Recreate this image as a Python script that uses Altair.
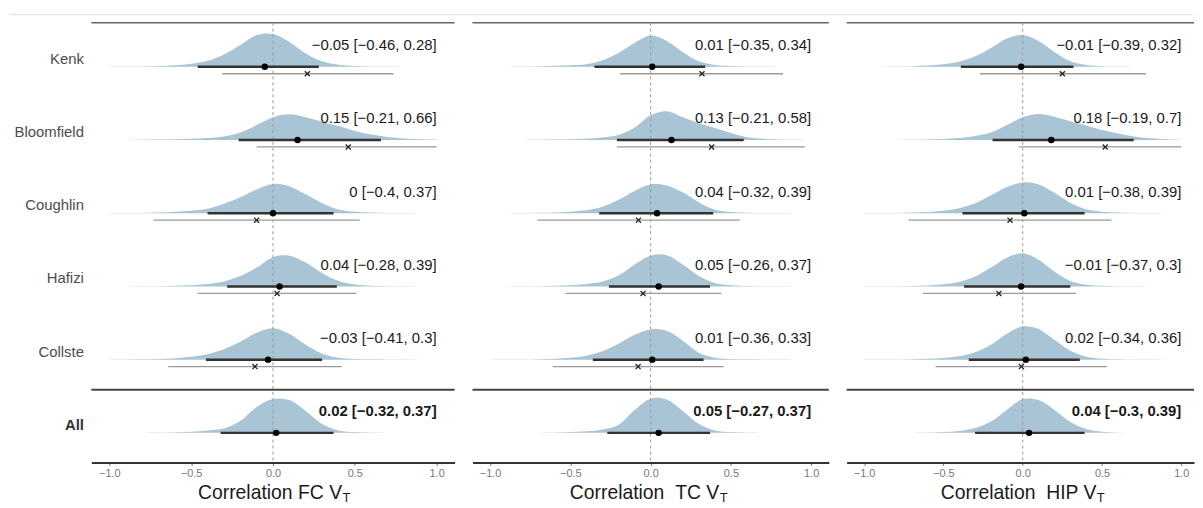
import altair as alt
import pandas as pd

# ---------------- data ----------------
ROWS = ["Kenk", "Bloomfield", "Coughlin", "Hafizi", "Collste", "All"]
ROW_POS = [5, 4, 3, 2, 1, 0]
PANELS = ["FC", "TC", "HIP"]

# posterior median and 95% interval
MED = {"FC": [-0.05, 0.15, 0.00, 0.04, -0.03, 0.02],
       "TC": [0.01, 0.13, 0.04, 0.05, 0.01, 0.05],
       "HIP": [-0.01, 0.18, 0.01, -0.01, 0.02, 0.04]}
LO = {"FC": [-0.46, -0.21, -0.40, -0.28, -0.41, -0.32],
      "TC": [-0.35, -0.21, -0.32, -0.26, -0.36, -0.27],
      "HIP": [-0.39, -0.19, -0.38, -0.37, -0.34, -0.30]}
HI = {"FC": [0.28, 0.66, 0.37, 0.39, 0.30, 0.37],
      "TC": [0.34, 0.58, 0.39, 0.37, 0.33, 0.37],
      "HIP": [0.32, 0.70, 0.39, 0.30, 0.36, 0.39]}

# observed (sample) correlation and its interval, studies only
OBS_ROWS = ["Kenk", "Bloomfield", "Coughlin", "Hafizi", "Collste"]
OBS = {"FC": [0.21, 0.46, -0.10, 0.025, -0.11],
       "TC": [0.32, 0.38, -0.076, -0.047, -0.078],
       "HIP": [0.25, 0.52, -0.08, -0.15, -0.008]}
OBS_LO = {"FC": [-0.31, -0.10, -0.73, -0.46, -0.64],
          "TC": [-0.19, -0.21, -0.705, -0.53, -0.61],
          "HIP": [-0.27, -0.025, -0.72, -0.63, -0.55]}
OBS_HI = {"FC": [0.735, 1.00, 0.53, 0.51, 0.42],
          "TC": [0.825, 0.96, 0.555, 0.44, 0.455],
          "HIP": [0.777, 1.00, 0.56, 0.336, 0.53]}

# posterior density heights (ridge heights) on a grid of correlation values
GRID = [-1.0, -0.9, -0.8, -0.7, -0.6, -0.5, -0.4, -0.3, -0.2, -0.1, 0.0,
        0.1, 0.2, 0.3, 0.4, 0.5, 0.6, 0.7, 0.8, 0.9, 1.0]
DENS = {
    "FC": [
        [0.1, 0.2, 0.4, 0.8, 1.5, 3, 6, 12.5, 22, 32, 33, 25, 13.5, 5.5, 2, 0.8, 0.4, 0.2, 0.1, 0.05, 0],
        [0, 0.1, 0.2, 0.4, 0.8, 1.2, 2, 3.5, 7.5, 15, 23, 26, 23, 18.5, 14, 9, 5.5, 3, 1.5, 0.7, 0.3],
        [0, 0.1, 0.3, 0.7, 1.5, 2.5, 4.5, 9.5, 16, 24, 29.5, 27, 19, 10, 3.8, 1.5, 0.6, 0.3, 0.15, 0.05, 0],
        [0, 0.05, 0.1, 0.3, 0.6, 1.2, 2.5, 5, 10.5, 19, 29.5, 31, 24, 13.5, 5.5, 2, 0.8, 0.3, 0.15, 0.05, 0],
        [0, 0.1, 0.3, 0.7, 1.5, 3, 5.5, 10.5, 18, 27, 31.7, 26, 15, 6, 2, 0.7, 0.3, 0.1, 0.05, 0, 0],
        [0.05, 0.1, 0.15, 0.3, 0.6, 1.2, 2.5, 4.5, 12, 26, 34, 33, 22, 9, 2.5, 0.8, 0.4, 0.2, 0.1, 0.05, 0],
    ],
    "TC": [
        [0, 0.1, 0.2, 0.5, 1, 1.6, 2.5, 6.5, 14, 24, 31.5, 26, 15, 5.5, 1.8, 0.8, 0.4, 0.2, 0.1, 0.05, 0],
        [0, 0.05, 0.1, 0.2, 0.4, 0.7, 1.2, 2.5, 5, 12.5, 25, 29, 23, 17, 12, 7, 2.8, 1.2, 0.6, 0.3, 0.1],
        [0, 0.05, 0.15, 0.4, 0.8, 1.6, 3, 6.5, 13.5, 22.5, 29, 28, 21, 11, 3.5, 1.2, 0.5, 0.2, 0.1, 0.05, 0],
        [0, 0.05, 0.1, 0.3, 0.6, 1.2, 2.4, 5, 11, 22, 31, 31.5, 22, 10.5, 3.5, 1.2, 0.5, 0.2, 0.1, 0.05, 0],
        [0, 0.1, 0.2, 0.5, 1, 2, 4, 8.5, 16, 25, 30.5, 29, 19, 7, 2, 0.7, 0.3, 0.1, 0.05, 0, 0],
        [0, 0.05, 0.1, 0.2, 0.4, 0.8, 1.6, 3.5, 8, 23, 34.5, 33.5, 22, 9, 2.5, 0.8, 0.3, 0.15, 0.05, 0, 0],
    ],
    "HIP": [
        [0, 0.1, 0.3, 0.6, 1.2, 2.5, 5, 10.5, 19, 28.5, 32, 26, 15, 5.5, 1.8, 0.6, 0.3, 0.1, 0.05, 0, 0],
        [0, 0.05, 0.1, 0.2, 0.5, 1, 2, 4, 7.5, 15, 23, 26.3, 23.5, 19, 14.5, 10, 6.5, 3.5, 1.8, 0.8, 0.3],
        [0, 0.1, 0.3, 0.6, 1.2, 2.5, 5, 10, 18, 26.5, 31, 29, 20.5, 10.5, 4, 1.5, 0.6, 0.3, 0.1, 0.05, 0],
        [0, 0.1, 0.2, 0.5, 1, 2.2, 4.5, 10, 19, 29, 33.4, 27, 15, 5.5, 1.7, 0.6, 0.2, 0.1, 0.05, 0, 0],
        [0, 0.05, 0.15, 0.4, 0.8, 1.7, 3.5, 7.5, 15, 26, 33.5, 31, 20, 9, 3, 1, 0.4, 0.15, 0.05, 0, 0],
        [0, 0.05, 0.1, 0.2, 0.4, 0.9, 2, 5, 11.5, 23, 34, 33, 23, 11, 4, 1.2, 0.4, 0.15, 0.05, 0, 0],
    ],
}

TITLES = ["Correlation FC V", "Correlation\u00a0\u00a0TC V", "Correlation\u00a0\u00a0HIP V"]
TICKS = [-1.0, -0.5, 0.0, 0.5, 1.0]

# ---------------- layout / style ----------------
WIDTHS = [366, 359, 350]
XDOMS = [[-1.11, 1.11], [-1.11, 1.11], [-1.11, 1.08]]
VEND = [252.6, 248.6, 251.6]
H = 443
YDOM = [-0.404, 5.601]
ROW_PX = H / (YDOM[1] - YDOM[0])
SEP_Y = 0.59
OBS_DY = -0.095
LAB_DY = 0.294
CAT_DY = 0.11
FONT = "Liberation Sans"
RIDGE = "#a9c4d4"


def fmt(v):
    s = f"{v:g}"
    return s.replace("-", "\u2212")


def panel(k):
    key = PANELS[k]
    W = WIDTHS[k]
    xs = alt.Scale(domain=XDOMS[k], nice=False, zero=False)
    ys = alt.Scale(domain=YDOM, nice=False, zero=False)
    ax = alt.Axis(values=TICKS, format=".1f", title=None, grid=False,
                  labelFontSize=11, labelColor="#777777", labelFont=FONT,
                  tickColor="#777777", tickSize=3, tickWidth=1,
                  domainColor="#333333", domainWidth=2, labelPadding=2)

    def X(f):
        return alt.X(f, type="quantitative", scale=xs, axis=ax)

    def Y(f):
        return alt.Y(f, type="quantitative", scale=ys, axis=None)

    dens = []
    for i, r in enumerate(ROWS):
        for g, h in zip(GRID, DENS[key][i]):
            dens.append({"row": r, "x": g, "base": ROW_POS[i],
                         "top": ROW_POS[i] + h / ROW_PX})
    dd = pd.DataFrame(dens)

    sd = pd.DataFrame({
        "row": ROWS,
        "pos": ROW_POS,
        "med": MED[key],
        "lo": LO[key],
        "hi": HI[key],
    })
    sd["label"] = [f"{fmt(m)} [{fmt(l)}, {fmt(h)}]" for m, l, h in zip(MED[key], LO[key], HI[key])]
    sd["lab_y"] = sd["pos"] + LAB_DY
    sd["cat_y"] = sd["pos"] + CAT_DY
    sd["tx"] = 1.0
    sd["bold"] = sd["row"] == "All"

    od = pd.DataFrame({
        "row": OBS_ROWS,
        "obs": OBS[key],
        "olo": OBS_LO[key],
        "ohi": OBS_HI[key],
    })
    od["y"] = [ROW_POS[ROWS.index(r)] + OBS_DY for r in OBS_ROWS]

    zero = pd.DataFrame({"z": [0.0]})
    sep = pd.DataFrame({"s": [SEP_Y]})
    one = pd.DataFrame({"t": [TITLES[k]]})

    layers = []
    layers.append(alt.Chart(dd).mark_area(color=RIDGE, interpolate="catmull-rom", opacity=1,
                                           orient="vertical")
                  .encode(x=X("x"), y=Y("top"), y2="base", detail="row:N"))
    layers.append(alt.Chart(one).mark_rule(color="#666666", strokeWidth=1.5)
                  .encode(x=alt.value(0), x2=alt.value(W), y=alt.value(0)))
    layers.append(alt.Chart(sep).mark_rule(color="#444444", strokeWidth=2)
                  .encode(x=alt.value(0), x2=alt.value(W), y=Y("s")))
    layers.append(alt.Chart(zero).mark_rule(color="#9a9a9a", strokeWidth=1, strokeDash=[3, 3])
                  .encode(x=X("z"), y=alt.value(0), y2=alt.value(H)))
    layers.append(alt.Chart(od).mark_rule(color="#9a9a9a", strokeWidth=1.3)
                  .encode(x=X("olo"), x2="ohi", y=Y("y")))
    layers.append(alt.Chart(sd).mark_rule(color="#333333", strokeWidth=2.5)
                  .encode(x=X("lo"), x2="hi", y=Y("pos")))
    layers.append(alt.Chart(od).mark_point(shape="M-1,-1L1,1M-1,1L1,-1", size=26, filled=False,
                                           color="#222222", strokeWidth=1.3, opacity=1)
                  .encode(x=X("obs"), y=Y("y")))
    layers.append(alt.Chart(sd).mark_circle(size=42, color="#000000", opacity=1)
                  .encode(x=X("med"), y=Y("pos")))
    layers.append(alt.Chart(sd).transform_filter("!datum.bold")
                  .mark_text(align="right", baseline="middle", font=FONT, fontSize=15, color="#1a1a1a")
                  .encode(x=X("tx"), y=Y("lab_y"), text="label:N"))
    layers.append(alt.Chart(sd).transform_filter("datum.bold")
                  .mark_text(align="right", baseline="middle", font=FONT, fontSize=15,
                             fontWeight="bold", color="#1a1a1a")
                  .encode(x=X("tx"), y=Y("lab_y"), text="label:N"))
    # axis title with subscript
    layers.append(alt.Chart(one).mark_text(align="right", baseline="middle", font=FONT,
                                           fontSize=19.5, color="#1a1a1a")
                  .encode(x=alt.value(VEND[k]), y=alt.value(H + 30.7), text="t:N"))
    layers.append(alt.Chart(one).mark_text(align="left", baseline="middle", font=FONT,
                                           fontSize=13, color="#1a1a1a", text="T")
                  .encode(x=alt.value(VEND[k] + 0.5), y=alt.value(H + 35.5)))
    if k == 0:
        layers.append(alt.Chart(one).mark_rule(color="#e2e2e2", strokeWidth=1)
                      .encode(x=alt.value(-82.7), x2=alt.value(1110), y=alt.value(-8.4)))
        layers.append(alt.Chart(sd).transform_filter("!datum.bold")
                      .mark_text(align="right", baseline="middle", font=FONT, fontSize=15,
                                 color="#4d4d4d")
                      .encode(x=alt.value(-7.5), y=Y("cat_y"), text="row:N"))
        layers.append(alt.Chart(sd).transform_filter("datum.bold")
                      .mark_text(align="right", baseline="middle", font=FONT, fontSize=15,
                                 fontWeight="bold", color="#333333")
                      .encode(x=alt.value(-7.5), y=Y("cat_y"), text="row:N"))
    return alt.layer(*layers).properties(width=W, height=H)


chart = alt.hconcat(panel(0), panel(1), panel(2), spacing=18, bounds="flush").properties(
    padding={"left": 0, "top": 4, "right": 0, "bottom": 0},
    background="white",
).configure_view(stroke=None)

chart.save("out.html", embed_options={"renderer": "svg", "actions": False})
